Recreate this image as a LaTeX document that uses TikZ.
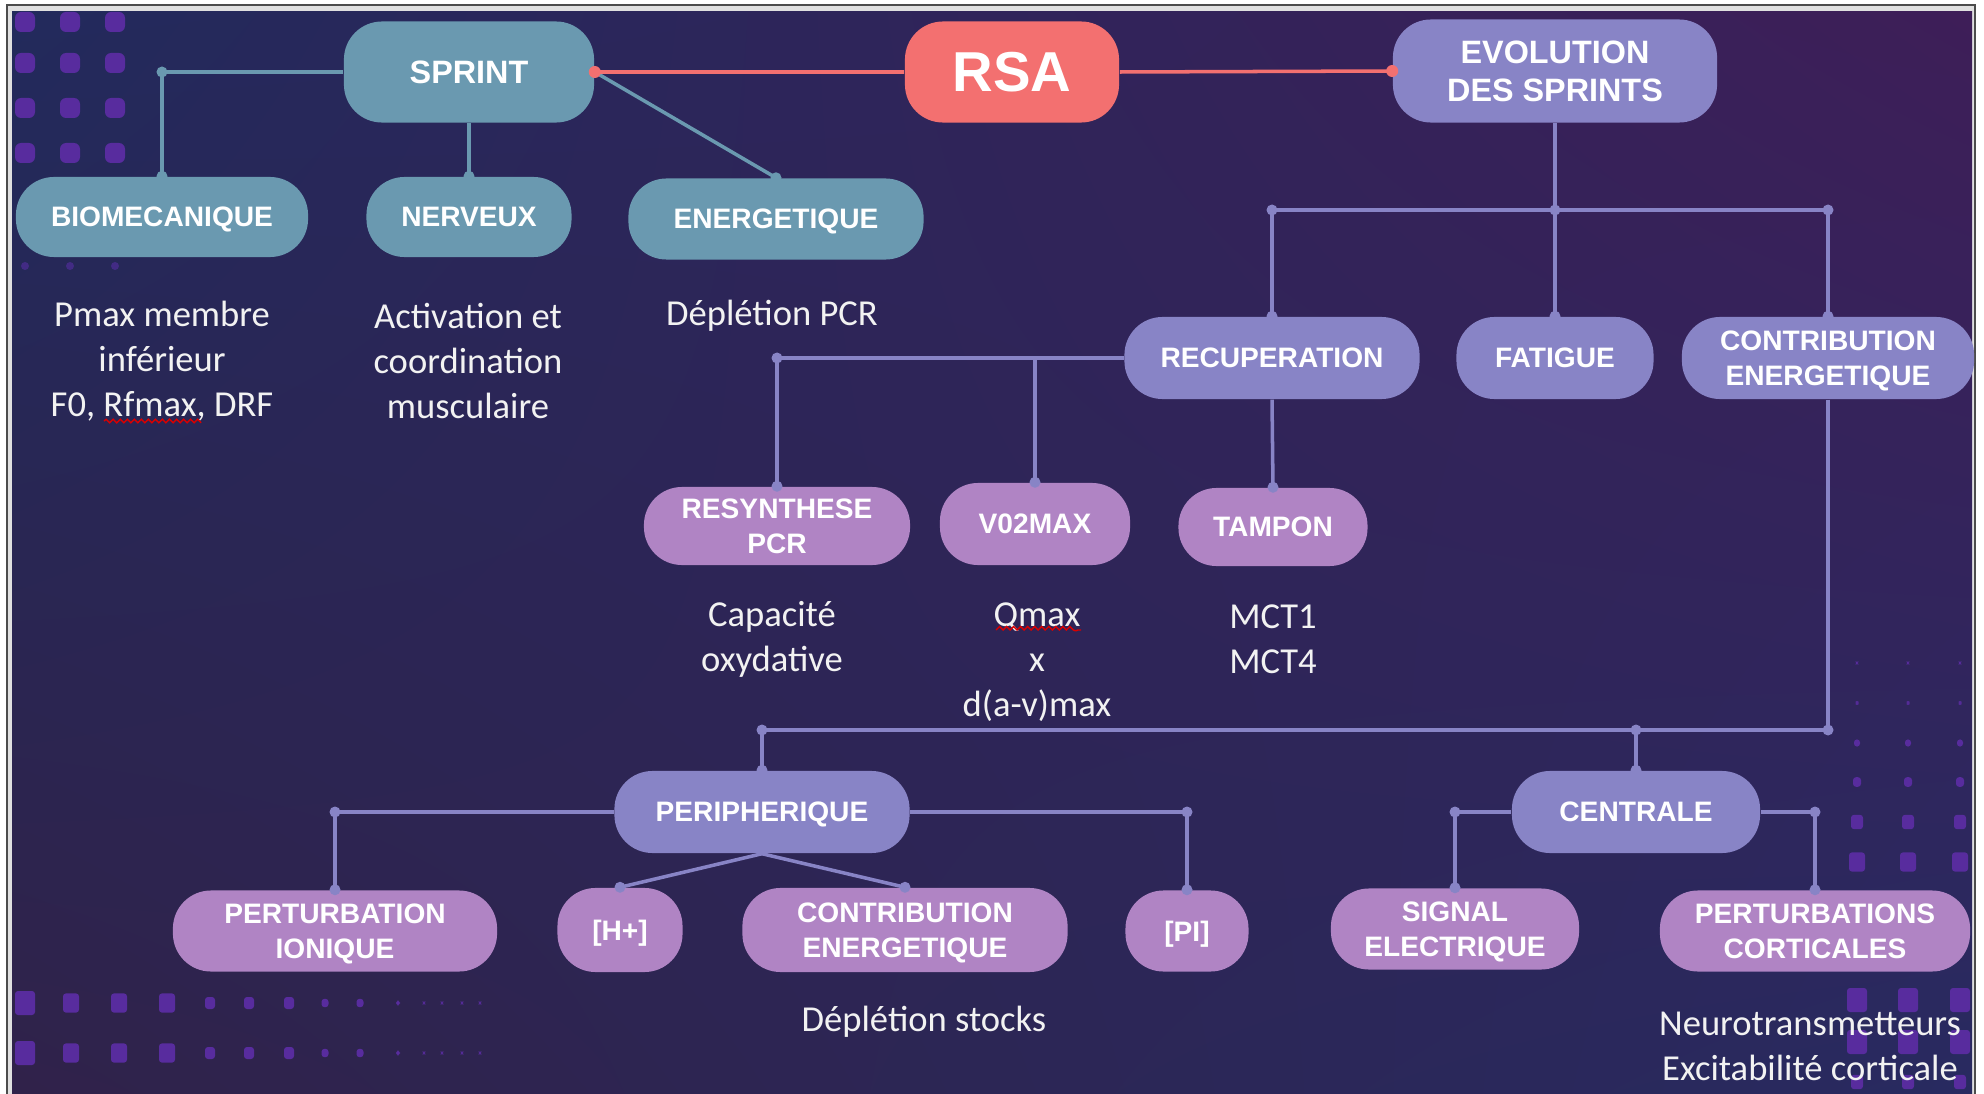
\documentclass[tikz,border=0pt]{standalone}
\usepackage{fontspec}
\setmainfont{Carlito}
\newfontfamily\boxfont{Liberation Sans}
\usetikzlibrary{decorations.pathmorphing,shadings}
\definecolor{sprintcol}{RGB}{106,153,176}
\definecolor{rsacol}{RGB}{243,112,112}
\definecolor{evolcol}{RGB}{136,132,198}
\definecolor{leafcol}{RGB}{176,132,196}
\definecolor{dotcol}{RGB}{88,44,158}
\definecolor{bgnw}{RGB}{34,42,92}
\definecolor{bgne}{RGB}{62,30,88}
\definecolor{bgsw}{RGB}{48,34,74}
\definecolor{bgse}{RGB}{40,42,96}
\definecolor{txtcol}{RGB}{242,242,242}
\begin{document}
\begin{tikzpicture}[x={(0.01cm,0)},y={(0,-0.01cm)},
		bloc/.style={rounded corners=0.38cm,text=white,align=center,inner sep=0pt,text depth=0pt,
			font=\boxfont\bfseries\fontsize{8}{9.8}\selectfont},
		haut/.style={bloc,font=\boxfont\bfseries\fontsize{9.2}{10.8}\selectfont},
		texte/.style={text=txtcol,align=center,font=\fontsize{10.4}{12.8}\selectfont},
		lienbleu/.style={draw=sprintcol,line width=1pt},
		lienrouge/.style={draw=rsacol,line width=1pt},
		lien/.style={draw=evolcol,line width=1pt}]
	\useasboundingbox (0,0) rectangle (1984,1094);
	\fill[white] (0,0) rectangle (1984,1094);
	\fill[black!70] (6,4) rectangle (1976,1094);
	\fill[black!12] (8,6) rectangle (1974,1094);
	\shade[upper left=bgnw,upper right=bgne,lower left=bgsw,lower right=bgse]
		(12,12) rectangle (1972,1094);
	
	% points decoratifs
	\foreach \i in {25,70,115}
		\foreach \j in {22,63,108,153}
			\fill[dotcol,rounded corners=0.06cm] (\i-10,\j-10) rectangle ++(20,20);
	\foreach \i in {25,70,115}
		\fill[dotcol!60!bgnw] (\i,266) circle (0.04cm);
	\foreach \i/\r in {25/10,71/8,119/8,167/8,210/5,249/5,289/5,325/3.5,360/3.5,398/2,424/1.2,442/1.2,462/1.2,480/1.2}
		\foreach \j in {1003,1053}
			\fill[dotcol,rounded corners=0.03cm] (\i-\r,\j-1.2*\r) rectangle ++(2*\r,2.4*\r);
	\foreach \i in {1857,1908,1960}
		\foreach \j/\r in {663/1.2,703/1.5,743/3,782/4,822/6,862/8,1000/10,1042/10,1082/6}
			\fill[dotcol,rounded corners=0.03cm] (\i-\r,\j-1.2*\r) rectangle ++(2*\r,2.4*\r);
	
	\node[haut,fill=sprintcol,minimum width=2.5cm,minimum height=1.01cm] (sprint) at (469,72) {SPRINT};
	\node[bloc,fill=rsacol,minimum width=2.14cm,minimum height=1.01cm,
		font=\boxfont\bfseries\fontsize{16}{19}\selectfont] (rsa) at (1012,72) {RSA};
	\node[haut,fill=evolcol,minimum width=3.24cm,minimum height=1.03cm] (evol) at (1555,71) {EVOLUTION\\DES SPRINTS};
	
	\node[bloc,fill=sprintcol,minimum width=2.92cm,minimum height=0.8cm] (biomeca) at (162,217) {BIOMECANIQUE};
	\node[bloc,fill=sprintcol,minimum width=2.05cm,minimum height=0.8cm] (nerveux) at (469,217) {NERVEUX};
	\node[bloc,fill=sprintcol,minimum width=2.95cm,minimum height=0.81cm] (energ) at (776,219) {ENERGETIQUE};
	
	\node[bloc,fill=evolcol,minimum width=2.95cm,minimum height=0.82cm] (recup) at (1272,358) {RECUPERATION};
	\node[bloc,fill=evolcol,minimum width=1.97cm,minimum height=0.82cm] (fatigue) at (1555,358) {FATIGUE};
	\node[bloc,fill=evolcol,minimum width=2.92cm,minimum height=0.82cm] (contribA) at (1828,358) {CONTRIBUTION\\ENERGETIQUE};
	
	\node[bloc,fill=leafcol,minimum width=2.66cm,minimum height=0.78cm] (resynth) at (777,526) {RESYNTHESE\\PCR};
	\node[bloc,fill=leafcol,minimum width=1.9cm,minimum height=0.82cm] (vo2) at (1035,524) {V02MAX};
	\node[bloc,fill=leafcol,minimum width=1.89cm,minimum height=0.78cm] (tampon) at (1273,527) {TAMPON};
	
	\node[bloc,fill=evolcol,minimum width=2.95cm,minimum height=0.82cm] (periph) at (762,812) {PERIPHERIQUE};
	\node[bloc,fill=evolcol,minimum width=2.48cm,minimum height=0.82cm] (centrale) at (1636,812) {CENTRALE};
	
	\node[bloc,fill=leafcol,minimum width=3.24cm,minimum height=0.81cm] (ionique) at (335,931) {PERTURBATION\\IONIQUE};
	\node[bloc,fill=leafcol,minimum width=1.25cm,minimum height=0.84cm] (hplus) at (620,930) {[H+]};
	\node[bloc,fill=leafcol,minimum width=3.25cm,minimum height=0.84cm] (contribB) at (905,930) {CONTRIBUTION\\ENERGETIQUE};
	\node[bloc,fill=leafcol,minimum width=1.23cm,minimum height=0.81cm] (pinorg) at (1187,931) {[PI]};
	\node[bloc,fill=leafcol,minimum width=2.48cm,minimum height=0.81cm] (signal) at (1455,929) {SIGNAL\\ELECTRIQUE};
	\node[bloc,fill=leafcol,minimum width=3.1cm,minimum height=0.81cm] (cortic) at (1815,931) {PERTURBATIONS\\CORTICALES};
	
	% textes
	\node[texte] (tbio) at (162,361) {Pmax membre\\inférieur\\F0, Rfmax, DRF};
	\node[texte] (tner) at (468,361) {Activation et\\coordination\\musculaire};
	\node[texte] (tene) at (772,316) {Déplétion PCR};
	\node[texte] (tres) at (772,639) {Capacité\\oxydative};
	\node[texte] (tvo2) at (1037,662) {Qmax\\x\\d(a-v)max};
	\node[texte] (ttam) at (1273,639) {MCT1\\MCT4};
	\node[texte] (tsto) at (924,1022) {Déplétion stocks};
	\node[texte] (tcor) at (1810,1046) {Neurotransmetteurs\\Excitabilité corticale};
	\draw[red!85!black,line width=0.4pt,decorate,decoration={snake,amplitude=0.5pt,segment length=2pt}]
		(104,421) -- (199,421) (996,630) -- (1081,630);
	
	% liens sprint
	\coordinate (jbio) at (biomeca.north |- sprint.west);
	\draw[lienbleu] (sprint.west) -- (jbio) -- (biomeca.north);
	\draw[lienbleu] (sprint.south) -- (nerveux.north);
	\draw[lienbleu] (sprint.east) -- (energ.north);
	\foreach \p in {jbio,biomeca.north,nerveux.north,energ.north}
		\fill[sprintcol] (\p) circle (0.055cm);
	\draw[lienrouge] (sprint.east) -- (rsa.west) (rsa.east) -- (evol.west);
	\foreach \p in {sprint.east,evol.west}
		\fill[rsacol] (\p) circle (0.06cm);
	
	% evolution des sprints
	\coordinate (jevol) at (1555,210);
	\coordinate (jrec) at (recup.north |- jevol);
	\coordinate (jcon) at (contribA.north |- jevol);
	\draw[lien] (evol.south) -- (fatigue.north);
	\draw[lien] (recup.north) -- (jrec) -- (jcon) -- (contribA.north);
	\coordinate (jres) at (resynth.north |- recup.west);
	\draw[lien] (recup.west) -- (jres) -- (resynth.north);
	\draw[lien] (vo2.north |- recup.west) -- (vo2.north);
	\draw[lien] (recup.south) -- (tampon.north);
	\coordinate (jbas) at (contribA.south |- 0,730);
	\coordinate (jper) at (periph.north |- jbas);
	\coordinate (jcen) at (centrale.north |- jbas);
	\draw[lien] (contribA.south) -- (jbas) -- (jper) -- (periph.north);
	\draw[lien] (jcen) -- (centrale.north);
	
	% peripherique / centrale
	\coordinate (jion) at (ionique.north |- periph.west);
	\coordinate (jpi) at (pinorg.north |- periph.east);
	\draw[lien] (periph.west) -- (jion) -- (ionique.north);
	\draw[lien] (periph.east) -- (jpi) -- (pinorg.north);
	\draw[lien] (periph.south) -- (hplus.north);
	\draw[lien] (periph.south) -- (contribB.north);
	\coordinate (jsig) at (signal.north |- centrale.west);
	\coordinate (jcort) at (cortic.north |- centrale.east);
	\draw[lien] (centrale.west) -- (jsig) -- (signal.north);
	\draw[lien] (centrale.east) -- (jcort) -- (cortic.north);
	
	\foreach \p in {jevol,jrec,jcon,recup.north,fatigue.north,contribA.north,
		jres,resynth.north,vo2.north,tampon.north,jbas,jper,jcen,periph.north,centrale.north,
		jion,ionique.north,jpi,pinorg.north,hplus.north,contribB.north,
		jsig,signal.north,jcort,cortic.north}
		\fill[evolcol] (\p) circle (0.055cm);
\end{tikzpicture}
\end{document}
